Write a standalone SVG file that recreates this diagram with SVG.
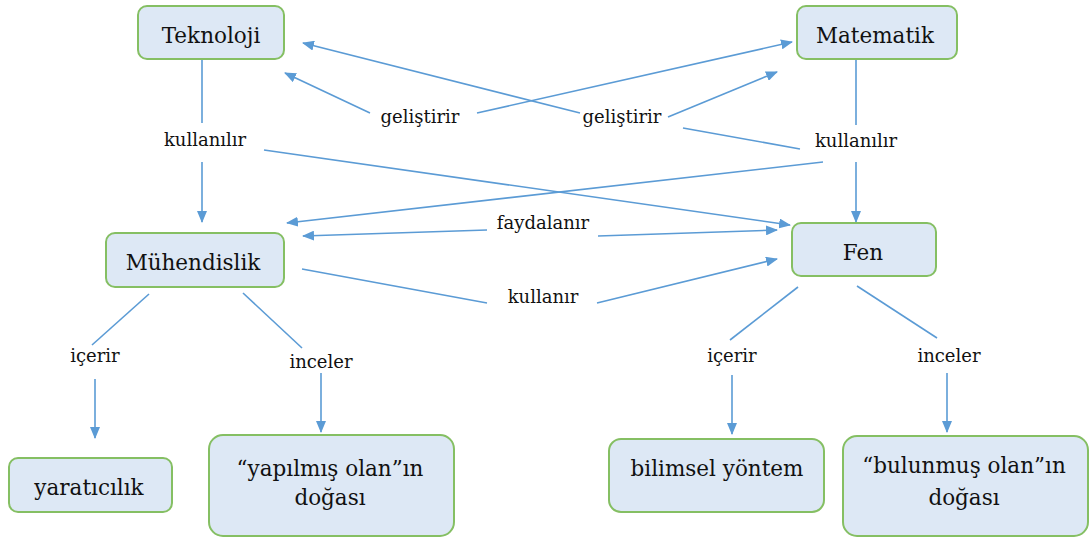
<svg xmlns="http://www.w3.org/2000/svg" width="1089" height="538" viewBox="0 0 1089 538">
<style>
.box{fill:#DDE8F5;stroke:#85BF63;stroke-width:2}
.nt{font-family:"DejaVu Serif","Liberation Serif","Times New Roman",serif;font-size:21.5px;fill:#111;text-anchor:middle}
.lt{font-family:"DejaVu Serif","Liberation Serif","Times New Roman",serif;font-size:18px;fill:#111;text-anchor:middle}
.c line{stroke:#5B9BD5;stroke-width:1.6;fill:none}
</style>
<defs>
<marker id="ah" markerUnits="userSpaceOnUse" markerWidth="12" markerHeight="10" refX="11" refY="5" orient="auto">
<path d="M0,0 L12,5 L0,10 z" fill="#5B9BD5"/>
</marker>
</defs>
<rect width="1089" height="538" fill="#fff"/>
<g class="c" id="connectors">
<line x1="202" y1="59" x2="202" y2="123"/>
<line x1="202" y1="162" x2="202" y2="222" marker-end="url(#ah)"/>
<line x1="264" y1="150" x2="790" y2="225" marker-end="url(#ah)"/>
<line x1="370" y1="113" x2="285" y2="73" marker-end="url(#ah)"/>
<line x1="477" y1="113" x2="792" y2="42" marker-end="url(#ah)"/>
<line x1="580" y1="113" x2="303" y2="43" marker-end="url(#ah)"/>
<line x1="668" y1="117" x2="777" y2="72" marker-end="url(#ah)"/>
<line x1="683" y1="128" x2="800" y2="149"/>
<line x1="856" y1="59" x2="856" y2="125"/>
<line x1="856" y1="162" x2="856" y2="222" marker-end="url(#ah)"/>
<line x1="823" y1="162" x2="287" y2="223" marker-end="url(#ah)"/>
<line x1="487" y1="230" x2="303" y2="236" marker-end="url(#ah)"/>
<line x1="598" y1="236" x2="777" y2="230" marker-end="url(#ah)"/>
<line x1="302" y1="269" x2="487" y2="303"/>
<line x1="597" y1="303" x2="777" y2="259" marker-end="url(#ah)"/>
<line x1="149" y1="294" x2="92" y2="345"/>
<line x1="95" y1="379" x2="95" y2="438" marker-end="url(#ah)"/>
<line x1="243" y1="293" x2="302" y2="348"/>
<line x1="321" y1="373" x2="321" y2="432" marker-end="url(#ah)"/>
<line x1="798" y1="287" x2="730" y2="340"/>
<line x1="732" y1="375" x2="732" y2="434" marker-end="url(#ah)"/>
<line x1="857" y1="286" x2="937" y2="338"/>
<line x1="947" y1="373" x2="947" y2="432" marker-end="url(#ah)"/>
</g>
<g id="teknoloji"><rect class="box" x="138" y="6" width="146" height="53" rx="9"/><text class="nt" x="211" y="43">Teknoloji</text></g>
<g id="matematik"><rect class="box" x="797" y="6" width="160" height="53" rx="9"/><text class="nt" x="875" y="43">Matematik</text></g>
<g id="muhendislik"><rect class="box" x="106" y="233" width="178" height="54" rx="9"/><text class="nt" x="193" y="270">Mühendislik</text></g>
<g id="fen"><rect class="box" x="792" y="223" width="144" height="53" rx="9"/><text class="nt" x="863" y="260">Fen</text></g>
<g id="yaraticilik"><rect class="box" x="9" y="458" width="163" height="54" rx="9"/><text class="nt" x="89" y="495">yaratıcılık</text></g>
<g id="yapilmis"><rect class="box" x="209" y="435" width="245" height="101" rx="14"/><text class="nt" x="330" y="476">“yapılmış olan”ın</text><text class="nt" x="330" y="505">doğası</text></g>
<g id="bilimsel"><rect class="box" x="609" y="439" width="215" height="73" rx="12"/><text class="nt" x="717" y="476">bilimsel yöntem</text></g>
<g id="bulunmus"><rect class="box" x="843" y="436" width="245" height="100" rx="14"/><text class="nt" x="964" y="473">“bulunmuş olan”ın</text><text class="nt" x="964" y="505">doğası</text></g>
<g id="labels">
<text class="lt" x="205" y="146">kullanılır</text>
<text class="lt" x="420" y="123">geliştirir</text>
<text class="lt" x="622" y="123">geliştirir</text>
<text class="lt" x="856" y="147">kullanılır</text>
<text class="lt" x="543" y="229">faydalanır</text>
<text class="lt" x="543" y="303">kullanır</text>
<text class="lt" x="95" y="362">içerir</text>
<text class="lt" x="321" y="368">inceler</text>
<text class="lt" x="732" y="362">içerir</text>
<text class="lt" x="949" y="362">inceler</text>
</g>
</svg>
